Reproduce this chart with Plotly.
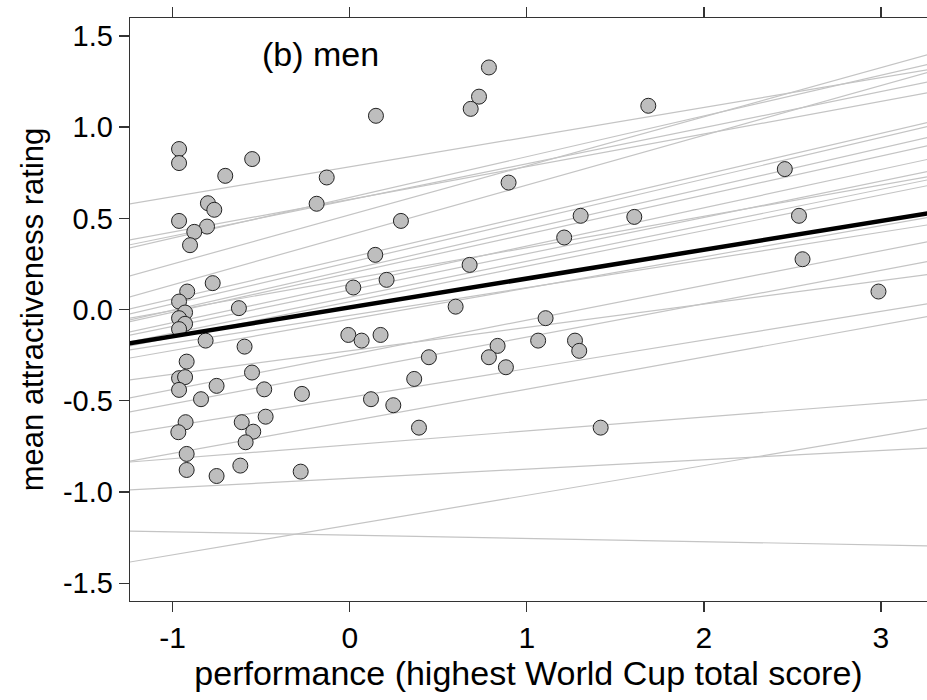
import plotly.graph_objects as go

# observed points: performance (x) and mean attractiveness rating (y)
perf = [0.786, 0.730, 0.683, 0.148, -0.964, -0.964, -0.703, -0.551, -0.130, -0.187,
        -0.801, -0.765, -0.964, -0.806, -0.878, -0.902, 0.289, 0.144, 0.677, 0.208,
        0.020, -0.774, -0.918, -0.964, 0.897,
        1.686, 2.457, 1.304, 1.607, 1.211, 2.537, 2.557, 2.986,
        -0.930, -0.964, -0.930, -0.964, -0.814, -0.626, -0.594, -0.921, -0.964, -0.930,
        -0.964, -0.840, -0.752, -0.552, -0.483, -0.270, -0.475, -0.610, -0.545, -0.588,
        -0.927, -0.968, -0.921, -0.921, -0.752, -0.618, -0.277, -0.008, 0.067, 0.174,
        0.598, 0.447, 0.364, 0.835, 0.786, 0.882, 0.120, 0.246, 0.391,
        1.106, 1.064, 1.272, 1.296, 1.417]
attr = [1.327, 1.167, 1.100, 1.062, 0.880, 0.803, 0.733, 0.825, 0.724, 0.580,
        0.583, 0.547, 0.486, 0.455, 0.426, 0.353, 0.486, 0.300, 0.245, 0.163,
        0.121, 0.145, 0.099, 0.044, 0.696,
        1.117, 0.770, 0.514, 0.508, 0.395, 0.514, 0.276, 0.099,
        -0.016, -0.047, -0.078, -0.107, -0.170, 0.008, -0.203, -0.285, -0.376, -0.370,
        -0.440, -0.491, -0.418, -0.345, -0.437, -0.462, -0.587, -0.617, -0.669, -0.727,
        -0.617, -0.672, -0.791, -0.879, -0.912, -0.855, -0.888, -0.139, -0.170, -0.139,
        0.016, -0.261, -0.380, -0.199, -0.261, -0.316, -0.491, -0.524, -0.647,
        -0.047, -0.170, -0.170, -0.226, -0.647]

# individual (random-slope) regression lines: intercept and slope
ind_intercept = [0.782, 0.519, 0.615, 0.601, 0.604, 0.409,
                 0.285, 0.259, 0.219, 0.199, 0.138, 0.107, 0.167, 0.068, 0.043,
                 -0.053, -0.032, -0.248, -0.334, -0.226,
                 -0.481, -0.612, -0.741, -0.925, -1.236, -1.181]
ind_slope = [0.163, 0.269, 0.223, 0.198, 0.179, 0.273,
             0.227, 0.228, 0.222, 0.214, 0.210, 0.199, 0.172, 0.197, 0.195,
             0.171, 0.152, 0.190, 0.183, 0.128,
             0.157, 0.176, 0.076, 0.051, -0.018, 0.163]

# population (fixed-effect) line
fixed_intercept = 0.012
fixed_slope = 0.158

x_range = [-1.241, 3.26]
y_range = [-1.597, 1.598]
x_ticks = [-1, 0, 1, 2, 3]
x_ticktext = ["-1", "0", "1", "2", "3"]
y_ticks = [-1.5, -1.0, -0.5, 0.0, 0.5, 1.0, 1.5]
y_ticktext = ["-1.5", "-1.0", "-0.5", "0.0", "0.5", "1.0", "1.5"]

FONT = "Liberation Sans, Arial, sans-serif"
fig = go.Figure()

line_x = [x_range[0] - 0.1, x_range[1] + 0.1]
for a, b in zip(ind_intercept, ind_slope):
    fig.add_trace(go.Scatter(x=line_x, y=[a + b * xx for xx in line_x], mode="lines",
                             line=dict(color="#c4c4c4", width=1.2), hoverinfo="skip",
                             showlegend=False))

fig.add_trace(go.Scatter(x=perf, y=attr, mode="markers",
                         marker=dict(size=15, color="#bebebe", line=dict(color="#222222", width=1)),
                         showlegend=False))

fig.add_trace(go.Scatter(x=line_x, y=[fixed_intercept + fixed_slope * xx for xx in line_x],
                         mode="lines", line=dict(color="black", width=4.5), showlegend=False))

fig.add_annotation(x=-0.163, y=1.40, text="(b) men", showarrow=False,
                   font=dict(family=FONT, size=34, color="black"), xanchor="center", yanchor="middle")

axis_common = dict(showgrid=False, zeroline=False, showline=True, linecolor="#333333", linewidth=1.3,
                   ticks="outside", ticklen=10, tickwidth=1.3, tickcolor="#333333", automargin=False)

fig.update_xaxes(range=x_range, tickvals=x_ticks, ticktext=x_ticktext, mirror="ticks",
                 tickfont=dict(family=FONT, size=30, color="black"),
                 title=dict(text="performance (highest World Cup total score)",
                            font=dict(family=FONT, size=34, color="black"), standoff=3),
                 **axis_common)
fig.update_yaxes(range=y_range, tickvals=y_ticks, ticktext=y_ticktext,
                 tickfont=dict(family=FONT, size=29, color="black"),
                 title=dict(text="mean attractiveness rating",
                            font=dict(family=FONT, size=31, color="black"), standoff=10),
                 **axis_common)

fig.update_layout(width=927, height=700, plot_bgcolor="white", paper_bgcolor="white",
                  margin=dict(l=130, r=0, t=18, b=99), font=dict(family=FONT))

fig.write_html("out.html", config={"displayModeBar": False, "staticPlot": True},
               post_script="document.body.style.margin='0';document.body.style.overflow='hidden';")
